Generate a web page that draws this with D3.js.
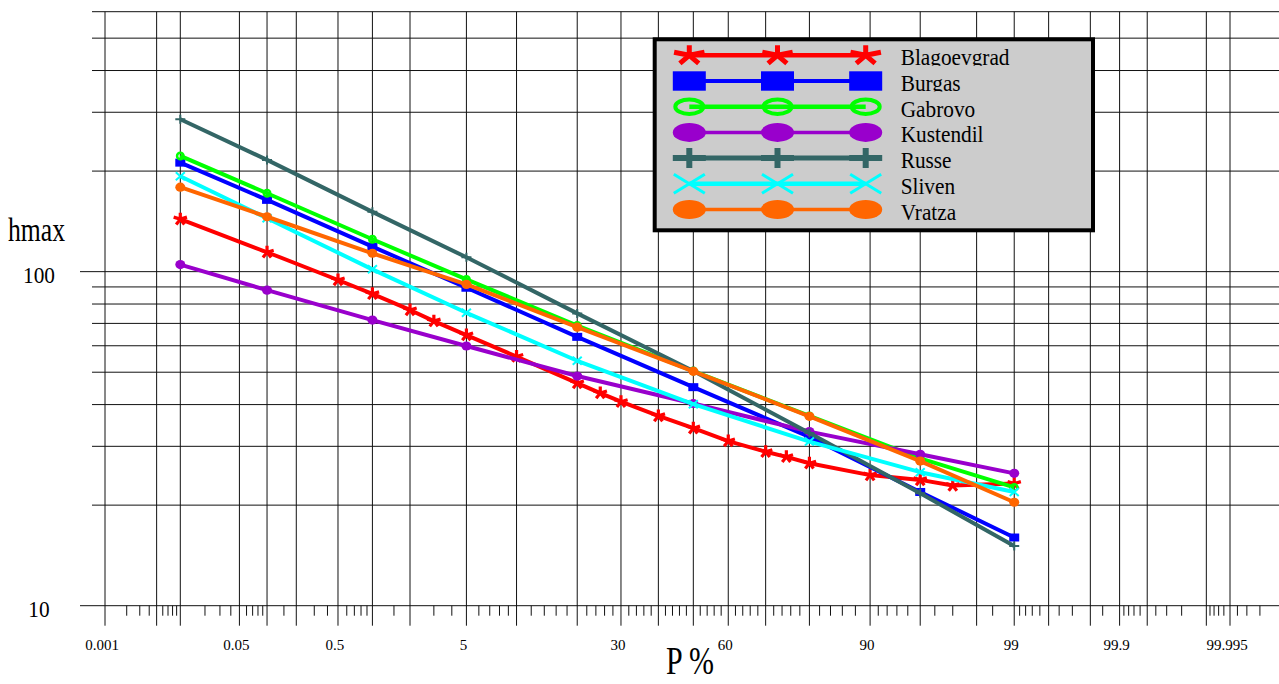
<!DOCTYPE html>
<html>
<head>
<meta charset="utf-8">
<script src="https://cdn.jsdelivr.net/npm/d3@7"></script>
<style>
  html, body { margin: 0; padding: 0; background: #fff; }
  svg { display: block; }
</style>
</head>
<body>
<svg id="chart" width="1279" height="684"></svg>
<script>
// ---------------- DATA ----------------
const seriesNames = ["Blagoevgrad", "Burgas", "Gabrovo", "Kustendil", "Russe", "Sliven", "Vratza"];
const seriesColors = ["#ff0000", "#0000ff", "#00ff00", "#9900cc", "#336666", "#00ffff", "#ff6600"];
const seriesMarkers = ["star", "square", "ring", "dot", "plus", "x", "dot"];

// probabilities (%) of the points
const pStandard = [0.01, 0.1, 1, 5, 20, 50, 80, 95, 99];
const pBlagoevgrad = [0.01, 0.1, 0.5, 1, 2, 3, 5, 10, 20, 25, 30, 40, 50, 60, 70, 75, 80, 90, 95, 97, 99];

// hmax values
const blagoevgrad = [143.6, 114.3, 94.4, 85.8, 76.8, 71.1, 64.6, 55.7, 46.4, 43.3, 40.8, 37.0, 34.0, 31.1, 28.9, 27.9, 26.7, 24.6, 23.8, 22.9, 23.2];
const burgas    = [212, 164, 118.8, 89.5, 63.8, 45.1, 32.0, 21.9, 16.0];
const gabrovo   = [222, 171.7, 125, 94.8, 69.0, 50.4, 37.0, 27.6, 22.6];
const kustendil = [105, 88, 71.6, 59.9, 48.7, 40.3, 33.2, 28.4, 24.9];
const russe     = [286, 216, 151, 110.4, 75.0, 50.4, 32.9, 21.7, 15.1];
const sliven    = [193, 144.5, 101.6, 75.3, 54.1, 40.1, 31.0, 25.1, 21.9];
const vratza    = [179, 146, 113.5, 91.6, 68.2, 50.3, 36.9, 27.1, 20.4];

// axis ticks (probability paper)
const majorGridP = [0.001, 0.005, 0.01, 0.05, 0.1, 0.2, 0.5, 1, 2, 5, 10, 20, 30, 40, 50, 60, 70, 80, 90, 95, 98, 99, 99.5, 99.8, 99.9, 99.95, 99.99, 99.995];
const minorTickP = [0.002, 0.003, 0.004, 0.006, 0.007, 0.008, 0.009, 0.02, 0.03, 0.04, 0.06, 0.07, 0.08, 0.09, 0.15, 0.3, 0.4,
  0.6, 0.7, 0.8, 0.9, 1.5, 3, 4, 6, 7, 8, 9, 12, 14, 16, 18, 22, 24, 26, 28, 32, 34, 36, 38, 42, 44, 46, 48,
  52, 54, 56, 58, 62, 64, 66, 68, 72, 74, 76, 78, 82, 84, 86, 88, 91, 92, 93, 94, 96, 97, 98.5,
  99.1, 99.2, 99.3, 99.4, 99.6, 99.7, 99.85, 99.91, 99.92, 99.93, 99.94, 99.96, 99.97, 99.98,
  99.991, 99.992, 99.993, 99.994, 99.996, 99.997, 99.998];
const xTickLabels = ["0.001", "0.05", "0.5", "5", "30", "60", "90", "99", "99.9", "99.995"];
const yGridValues = [20, 30, 40, 50, 60, 70, 80, 90, 200, 300, 400, 500, 600];
const yLongLines = [10, 100];
const yTickLabels = ["10", "100"];

const FONT = "'Liberation Serif', Tinos, 'Times New Roman', Times, 'DejaVu Serif', serif";

// ---------------- SCALES ----------------
function probit(p) {
  const a = [-3.969683028665376e+01, 2.209460984245205e+02, -2.759285104469687e+02, 1.383577518672690e+02, -3.066479806614716e+01, 2.506628277459239e+00];
  const b = [-5.447609879822406e+01, 1.615858368580409e+02, -1.556989798598866e+02, 6.680131188771972e+01, -1.328068155288572e+01];
  const c = [-7.784894002430293e-03, -3.223964580411365e-01, -2.400758277161838e+00, -2.549732539343734e+00, 4.374664141464968e+00, 2.938163982698783e+00];
  const d = [7.784695709041462e-03, 3.224671290700398e-01, 2.445134137142996e+00, 3.754408661907416e+00];
  const pl = 0.02425, ph = 1 - pl;
  let q, r;
  if (p < pl) {
    q = Math.sqrt(-2 * Math.log(p));
    return (((((c[0]*q+c[1])*q+c[2])*q+c[3])*q+c[4])*q+c[5]) / ((((d[0]*q+d[1])*q+d[2])*q+d[3])*q+1);
  }
  if (p <= ph) {
    q = p - 0.5; r = q * q;
    return (((((a[0]*r+a[1])*r+a[2])*r+a[3])*r+a[4])*r+a[5])*q / (((((b[0]*r+b[1])*r+b[2])*r+b[3])*r+b[4])*r+1);
  }
  q = Math.sqrt(-2 * Math.log(1 - p));
  return -(((((c[0]*q+c[1])*q+c[2])*q+c[3])*q+c[4])*q+c[5]) / ((((d[0]*q+d[1])*q+d[2])*q+d[3])*q+1);
}
const zScale = d3.scaleLinear().domain([probit(0.00001), probit(0.99995)]).range([105, 1230]);
const x = p => zScale(probit(p / 100));
const y = d3.scaleLog().domain([10, 600]).range([605.7, 11.7]);

const svg = d3.select("#chart");
svg.append("rect").attr("width", 1279).attr("height", 684).attr("fill", "#fff");
const defs = svg.append("defs");

// ---------------- GRID ----------------
const grid = svg.append("g").attr("stroke", "#111").attr("stroke-width", 1).attr("fill", "none");
grid.selectAll("line.v").data(majorGridP).join("line").attr("class", "v")
  .attr("x1", d => x(d)).attr("x2", d => x(d)).attr("y1", y(600)).attr("y2", y(10) + 20);
grid.selectAll("line.m").data(minorTickP).join("line").attr("class", "m")
  .attr("x1", d => x(d)).attr("x2", d => x(d)).attr("y1", y(10)).attr("y2", y(10) + 10);
grid.selectAll("line.h").data(yGridValues).join("line").attr("class", "h")
  .attr("x1", 92).attr("x2", 1279).attr("y1", d => y(d)).attr("y2", d => y(d));
grid.selectAll("line.hl").data(yLongLines).join("line").attr("class", "hl")
  .attr("x1", 80).attr("x2", 1279).attr("y1", d => y(d)).attr("y2", d => y(d));

// stretched text helper
function stext(g, str, tx, ty, size, sy, anchor) {
  return g.append("text")
    .attr("transform", `translate(${tx},${ty}) scale(1,${sy})`)
    .attr("text-anchor", anchor || "start")
    .attr("font-family", FONT)
    .attr("font-size", size)
    .attr("fill", "#000")
    .text(str);
}

// x tick labels
const xLabelP = xTickLabels.map(Number);
svg.append("g").selectAll("text").data(xLabelP).join("text")
  .attr("x", d => x(d) - 3).attr("y", 650)
  .attr("text-anchor", "middle").attr("font-size", 15).attr("font-family", FONT).attr("fill", "#000")
  .text((d, i) => xTickLabels[i]);

// y tick labels
yTickLabels.forEach(t => stext(svg, t, 39, y(+t) + 11, 21.3, 1.13, "middle"));

// axis titles
stext(svg, "hmax", 8, 241, 25.7, 1.3, "start");
stext(svg, "P %", 690, 674, 30, 1.35, "middle");

// ---------------- MARKERS ----------------
function marker(g, type, cx, cy, rx, ry, color, sw) {
  if (type === "square") {
    g.append("rect").attr("x", cx - rx).attr("y", cy - ry).attr("width", 2 * rx).attr("height", 2 * ry).attr("fill", color);
  } else if (type === "dot") {
    g.append("ellipse").attr("cx", cx).attr("cy", cy).attr("rx", rx).attr("ry", ry).attr("fill", color);
  } else if (type === "ring") {
    g.append("ellipse").attr("cx", cx).attr("cy", cy).attr("rx", rx - sw / 2).attr("ry", ry - sw / 2)
      .attr("fill", "none").attr("stroke", color).attr("stroke-width", sw);
  } else if (type === "plus") {
    g.append("path").attr("d", `M${cx - rx},${cy}H${cx + rx}M${cx},${cy - ry}V${cy + ry}`)
      .attr("stroke", color).attr("stroke-width", sw).attr("fill", "none");
  } else if (type === "x") {
    g.append("path").attr("d", `M${cx - rx},${cy - ry}L${cx + rx},${cy + ry}M${cx - rx},${cy + ry}L${cx + rx},${cy - ry}`)
      .attr("stroke", color).attr("stroke-width", sw).attr("fill", "none");
  } else if (type === "star") {
    let d = "";
    for (let k = 0; k < 5; k++) {
      const ang = -Math.PI / 2 + k * 2 * Math.PI / 5;
      d += `M${cx},${cy}L${cx + rx * Math.cos(ang)},${cy + ry * Math.sin(ang)}`;
    }
    g.append("path").attr("d", d).attr("stroke", color).attr("stroke-width", sw)
      .attr("stroke-linecap", "butt").attr("fill", "none");
  }
}

// ---------------- SERIES ----------------
const allValues = [blagoevgrad, burgas, gabrovo, kustendil, russe, sliven, vratza];
const allP = [pBlagoevgrad, pStandard, pStandard, pStandard, pStandard, pStandard, pStandard];
const line = d3.line().x(d => x(d[0])).y(d => y(d[1]));
const chartMarkerSize = {
  star: [7, 6.5, 3.2], square: [5, 4, 0], ring: [4.5, 4.5, 2.5], dot: [5, 4.6, 0], plus: [5, 4.5, 2], x: [4.5, 4, 2]
};
seriesNames.forEach((name, i) => {
  const pts = allP[i].map((p, j) => [p, allValues[i][j]]);
  const g = svg.append("g").attr("class", "series");
  g.append("path").datum(pts).attr("d", line).attr("fill", "none")
    .attr("stroke", seriesColors[i]).attr("stroke-width", 4).attr("stroke-linejoin", "round");
  const ms = chartMarkerSize[seriesMarkers[i]];
  pts.forEach(pt => marker(g, seriesMarkers[i], x(pt[0]), y(pt[1]), ms[0], ms[1], seriesColors[i], ms[2]));
});

// ---------------- LEGEND ----------------
const lg = svg.append("g");
lg.append("rect").attr("x", 654.7).attr("y", 39.3).attr("width", 438.3).attr("height", 191)
  .attr("fill", "#cccccc").attr("stroke", "#000").attr("stroke-width", 4);
const legendMarkerSize = {
  star: [16, 10, 5], square: [16.5, 9.7, 0], ring: [16, 9.2, 4], dot: [16.5, 9.5, 0], plus: [16.5, 10, 6], x: [15.5, 9.5, 3]
};
const legendLineW = [4.5, 4, 4.5, 3.5, 5, 4.5, 3.5];
seriesNames.forEach((name, i) => {
  const cy = 55.3 + i * 25.7;
  const x0 = 689.3, x2 = 865.7, x1 = (x0 + x2) / 2;
  lg.append("line").attr("x1", x0).attr("x2", x2).attr("y1", cy).attr("y2", cy)
    .attr("stroke", seriesColors[i]).attr("stroke-width", legendLineW[i]);
  const ms = legendMarkerSize[seriesMarkers[i]];
  [x0, x1, x2].forEach(mx => marker(lg, seriesMarkers[i], mx, cy, ms[0], ms[1], seriesColors[i], ms[2]));
  defs.append("clipPath").attr("id", "lc" + i).append("rect")
    .attr("x", 890).attr("y", cy - 20).attr("width", 200).attr("height", 30.5);
  const wrap = lg.append("g").attr("clip-path", `url(#lc${i})`);
  stext(wrap, name, 900.7, cy + 10, 21.3, 1.13, "start");
});
</script>
</body>
</html>
